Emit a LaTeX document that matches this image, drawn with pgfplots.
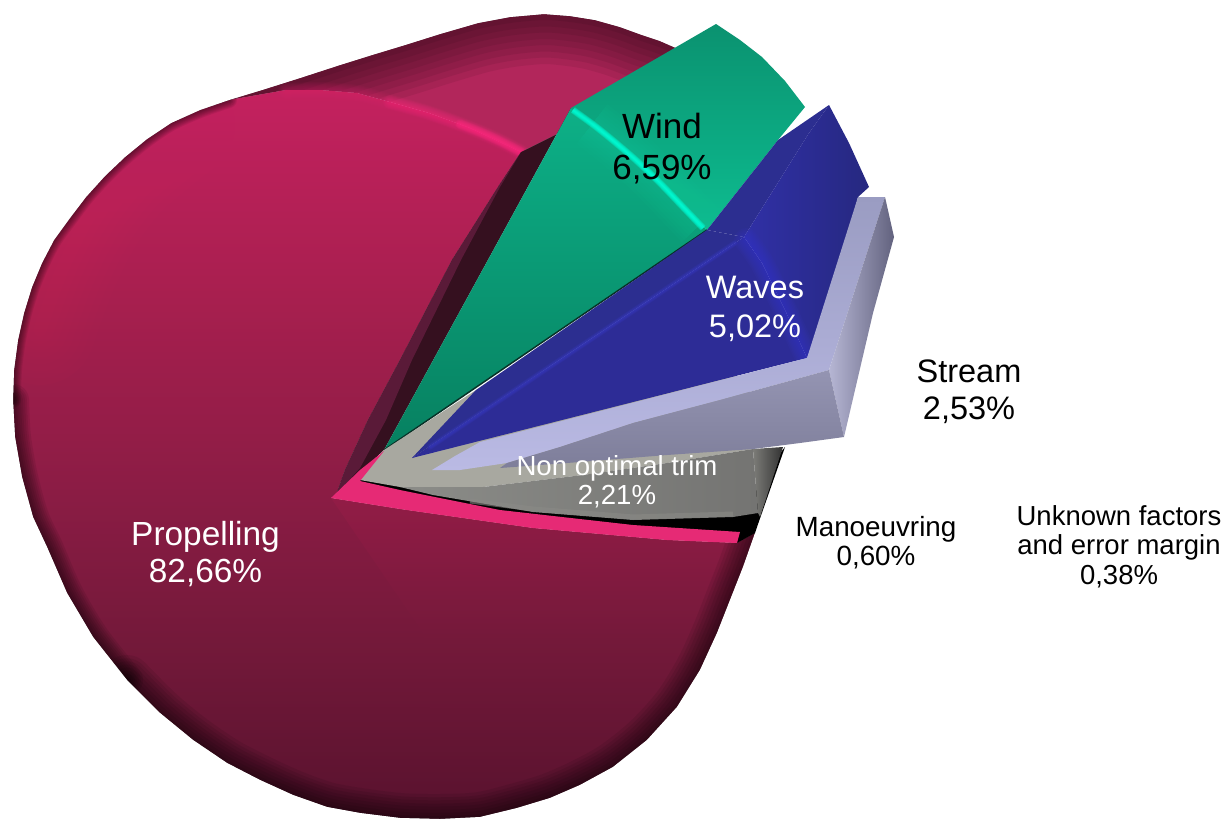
\documentclass[border=0pt]{standalone}
\usepackage{pgfplots}
\pgfplotsset{compat=1.18}
\usepackage{pgfplotstable}
\usepackage{fontspec}
\setmainfont{Liberation Sans}

% Outer edge of the large slice, in sections of growing edge shade
\pgfplotstableread{
x y
700 62
676 48
660 41
642 35
620 27
595 20
570 16
544 14
510 17
478 23
440 34
405 45
372 55
340 65
300 78
262 90
229 100
}\tTop
\pgfplotstableread{
x y
229 100
200 110
171 123
147 139
125 157
105 176
86 197
70 218
54 240
42 263
32 287
24 313
18 340
14 370
13 400
}\tEdgeA
\pgfplotstableread{
x y
13 400
15 437
22 477
33 517
47 547
67 593
93 637
127 680
}\tEdgeB
\pgfplotstableread{
x y
127 680
160 713
193 740
227 763
260 780
293 795
327 807
360 813
400 818
440 819
480 817
517 808
550 798
580 785
613 767
647 740
677 707
700 670
717 633
730 600
743 567
755 533
}\tEdgeC
% Rim of the large slice
\pgfplotstableread{
x y
229 100
262 90
300 78
340 65
372 55
405 45
440 34
478 23
510 17
544 14
570 16
595 20
620 27
642 35
660 41
676 48
580 125
561 132
521 152
470 128
429 113
390 102
357 93
320 90
286 90
}\tRim
% Face of the large slice
\pgfplotstableread{
x y
229 100
200 110
171 123
147 139
125 157
105 176
86 197
70 218
54 240
42 263
32 287
24 313
18 340
14 370
13 400
15 437
22 477
33 517
47 547
67 593
93 637
127 680
160 713
193 740
227 763
260 780
293 795
327 807
360 813
400 818
440 819
480 817
517 808
550 798
580 785
613 767
647 740
677 707
700 670
717 633
730 600
743 567
755 533
737 543
667 540
533 528
400 509
331 498
336 495
345 470
368 420
400 360
452 260
498 187
521 152
470 128
429 113
390 102
357 93
320 90
286 90
}\tFace
% Lighter lower-right part of the face
\pgfplotstableread{
x y
331 498
400 509
533 528
667 540
737 543
755 533
743 567
730 600
717 633
700 670
677 707
647 740
613 767
580 785
550 798
517 808
480 817
440 819
423 633
}\tFaceLow
\pgfplotstableread{
x y
286 91
320 90
357 93
390 102
429 113
470 128
500 141
521 152
}\tRimArc
\pgfplotstableread{
x y
390 102
429 113
470 128
500 141
521 152
}\tRimWarm
\pgfplotstableread{
x y
460 124
480 132
500 141
521 152
}\tRimHot
\pgfplotstableread{
x y
40 330
62 270
90 215
125 170
180 125
}\tSpot
% Cut walls between the large slice and Wind
\pgfplotstableread{
x y
521 152
561 132
571 108
384 450
338 493
336 495
345 470
368 420
400 360
452 260
498 187
}\tWallDark
\pgfplotstableread{
x y
521 152
500 187
461 260
412 360
386 420
360 468
336 495
345 470
368 420
400 360
452 260
498 187
}\tWallStrip
% Page with the outline cut out
\pgfplotstableread{
x y
1300 -50
1300 900
-50 900
-50 -50
1300 -50
676 48
660 41
642 35
620 27
595 20
570 16
544 14
510 17
478 23
440 34
405 45
372 55
340 65
300 78
262 90
229 100
200 110
171 123
147 139
125 157
105 176
86 197
70 218
54 240
42 263
32 287
24 313
18 340
14 370
13 400
15 437
22 477
33 517
47 547
67 593
93 637
127 680
160 713
193 740
227 763
260 780
293 795
327 807
360 813
400 818
440 819
480 817
517 808
550 798
580 785
613 767
647 740
677 707
700 670
717 633
730 600
743 567
755 533
676 48
1300 -50
}\tMask
% Wind
\pgfplotstableread{
x y
571 108
616 143
660 183
707 230
384 450
}\tWindFace
\pgfplotstableread{
x y
571 108
716 24
740 40
762 57
785 81
805 107
778 140
707 230
660 183
616 143
}\tWindRim
\pgfplotstableread{
x y
573 110
595 126
616 143
638 162
660 183
682 206
703 228
}\tWindArc
\pgfplotstableread{
x y
592 124
616 143
638 162
660 183
682 206
700 225
}\tWindGlow
\pgfplotstableread{
x y
384 450
707 230
}\tWindSeam
% Waves
\pgfplotstableread{
x y
412 458
476 390
707 230
744 237
}\tWavesWall
\pgfplotstableread{
x y
412 458
744 237
762 263
785 310
807 358
}\tWavesFace
\pgfplotstableread{
x y
707 230
778 140
829 105
809 133
744 237
}\tWavesRimL
\pgfplotstableread{
x y
744 237
809 133
829 105
849 143
869 187
858 197
836 280
807 358
785 310
762 263
}\tWavesRimR
\pgfplotstableread{
x y
430 447
669 287
735 243
}\tWavesRidge
\pgfplotstableread{
x y
746 240
762 263
785 310
806 356
}\tWavesArc
% Stream
\pgfplotstableread{
x y
432 470
455 456
480 442
807 358
858 197
885 197
829 370
720 400
633 423
560 447
507 463
460 470
}\tStreamTop
\pgfplotstableread{
x y
885 197
894 237
873 313
844 437
829 370
}\tStreamSide
\pgfplotstableread{
x y
829 370
844 437
800 443
753 449
667 455
567 463
500 468
507 463
560 447
633 423
720 400
}\tStreamLow
% Non optimal trim
\pgfplotstableread{
x y
360 480
384 450
476 390
700 330
785 440
753 449
667 463
583 475
483 487
400 487
}\tTrimTop
\pgfplotstableread{
x y
400 487
483 487
583 475
667 463
753 449
758 513
733 517
633 520
533 512
433 495
}\tTrimBody
\pgfplotstableread{
x y
753 449
783 447
760 517
758 513
}\tTrimSide
\pgfplotstableread{
x y
470 501
533 509
633 517
733 514
}\tTrimLip
% Manoeuvring
\pgfplotstableread{
x y
360 478
533 508
633 516
733 513
785 447
757 527
755 533
737 543
633 530
500 515
400 495
360 483
}\tManoeuvre
% Unknown factors and error margin
\pgfplotstableread{
x y
331 498
360 470
384 451
360 481
400 490
500 510
633 525
740 532
737 543
667 540
533 528
400 509
}\tUnknown

\definecolor{cRim}{HTML}{B2265B}
\definecolor{cPink}{HTML}{E62A75}
\definecolor{f0}{RGB}{88,18,46}
\definecolor{f1}{RGB}{116,25,58}
\definecolor{f2}{RGB}{138,28,68}
\definecolor{f3}{RGB}{168,31,79}
\definecolor{f4}{RGB}{196,33,95}
\definecolor{fl0}{RGB}{146,28,70}
\definecolor{cSpot}{RGB}{214,32,100}
\definecolor{cArc}{RGB}{225,40,115}
\definecolor{cHot}{RGB}{255,42,128}
\definecolor{cWallD}{RGB}{53,16,31}
\definecolor{cWallS}{RGB}{90,26,56}
\definecolor{g0}{RGB}{13,176,135}
\definecolor{g1}{RGB}{10,152,118}
\definecolor{g2}{RGB}{7,128,96}
\definecolor{g3}{RGB}{11,146,112}
\definecolor{g4}{RGB}{11,172,132}
\definecolor{g5}{RGB}{13,188,144}
\definecolor{g6}{RGB}{16,200,155}
\definecolor{g7}{RGB}{0,255,215}
\definecolor{gS}{RGB}{8,50,40}
\definecolor{t0}{RGB}{168,168,160}
\definecolor{t1}{RGB}{139,140,136}
\definecolor{t2}{RGB}{116,116,114}
\definecolor{t3}{RGB}{124,124,120}
\definecolor{t4}{RGB}{50,50,50}
\definecolor{t5}{RGB}{138,138,134}
\definecolor{b0}{RGB}{44,46,144}
\definecolor{b1}{RGB}{45,44,150}
\definecolor{b2}{RGB}{38,40,128}
\definecolor{b3}{RGB}{48,48,166}
\definecolor{b4}{RGB}{58,60,200}
\definecolor{b5}{RGB}{60,60,215}
\definecolor{s0}{RGB}{186,186,228}
\definecolor{s1}{RGB}{154,156,194}
\definecolor{s2}{RGB}{182,182,212}
\definecolor{s3}{RGB}{98,98,126}
\definecolor{s4}{RGB}{148,148,178}
\definecolor{s5}{RGB}{126,126,154}
% The lower shading reaches the face's own colours below y = 640
\pgfdeclareverticalshading{faceshade}{100bp}{
  color(0bp)=(f0); color(25bp)=(f0); color(37.3bp)=(f1); color(47bp)=(f2);
  color(61bp)=(f3); color(75bp)=(f4); color(100bp)=(f4)}
\pgfdeclareverticalshading{lowshade}{100bp}{
  color(0bp)=(f0); color(25bp)=(f0); color(52.9bp)=(f1); color(75bp)=(fl0);
  color(100bp)=(fl0)}

% Stacked strokes of falling width read as a soft band along a curve
\newcommand{\softband}[4]{%
  \pgfplotsinvokeforeach{1,0.87,0.75,0.62,0.5,0.37,0.25,0.12}{%
    \addplot[smooth, draw=#2, line width={##1*#3pt}, opacity=#4, line join=round, line cap=round] table {#1};
  }%
}
\newcommand{\softbandflat}[4]{%
  \pgfplotsinvokeforeach{1,0.87,0.75,0.62,0.5,0.37,0.25,0.12}{%
    \addplot[smooth, draw=#2, line width={##1*#3pt}, opacity=#4, line join=round, line cap=butt] table {#1};
  }%
}
\newcommand{\lab}[4]{\node[anchor=base, inner sep=0pt, text=#4, font=\fontsize{#3}{#3}\selectfont]
  at (axis cs:#1) {#2};}

\begin{document}
\begin{tikzpicture}
\begin{axis}[
  scale only axis, width=1228pt, height=819pt,
  xmin=0, xmax=1228, ymin=0, ymax=819, y dir=reverse,
  enlargelimits=false, hide axis]

% Large slice
\addplot[draw=none, fill=cRim] table {\tRim};
\softband{\tTop}{black}{100}{0.065}
\addplot[draw=none, shading=faceshade] table {\tFace};
\addplot[draw=none, shading=lowshade] table {\tFaceLow};
\softband{\tSpot}{cSpot}{110}{0.035}
\softband{\tRimArc}{cArc}{16}{0.05}
\softband{\tRimWarm}{cHot}{14}{0.07}
\softband{\tRimHot}{cHot}{10}{0.13}
\softband{\tEdgeA}{black}{16}{0.07}
\softband{\tEdgeB}{black}{32}{0.08}
\softband{\tEdgeC}{black}{50}{0.08}
\addplot[draw=none, fill=white, even odd rule] table {\tMask};

\addplot[draw=none, fill=cWallD] table {\tWallDark};
\addplot[draw=none, fill=cWallS] table {\tWallStrip};

% Wind
\addplot[draw=none, top color=g0, middle color=g1, bottom color=g2] table {\tWindFace};
\addplot[draw=none, shading angle=-45, top color=g3, middle color=g4, bottom color=g5] table {\tWindRim};
\softbandflat{\tWindGlow}{g6}{50}{0.06}
\softbandflat{\tWindArc}{g7}{7}{0.25}
\addplot[draw=gS, line width=1.5pt] table {\tWindSeam};

% Non optimal trim and Manoeuvring, under the slices above them
\addplot[draw=none, fill=black] table {\tManoeuvre};
\addplot[draw=none, fill=t0] table {\tTrimTop};
\addplot[draw=none, left color=t1, right color=t2] table {\tTrimBody};
\addplot[draw=t5, line width=5pt, opacity=0.6] table {\tTrimLip};
\addplot[draw=none, left color=t3, right color=t4] table {\tTrimSide};
\addplot[draw=none, fill=cPink] table {\tUnknown};

% Waves
\addplot[draw=none, fill=b0] table {\tWavesWall};
\addplot[draw=none, fill=b1] table {\tWavesFace};
\addplot[draw=none, fill=b0] table {\tWavesRimL};
\addplot[draw=none, left color=b3, right color=b2] table {\tWavesRimR};
\softband{\tWavesRidge}{b4}{6}{0.1}
\softband{\tWavesArc}{b5}{24}{0.07}

% Stream
\addplot[draw=none, shading angle=-30, top color=s1, bottom color=s0] table {\tStreamTop};
\addplot[draw=none, left color=s2, right color=s3] table {\tStreamSide};
\addplot[draw=none, top color=s4, bottom color=s5] table {\tStreamLow};

\lab{205.5,545}{Propelling}{33.4}{white}
\lab{205.5,582}{82,66\%}{33.4}{white}
\lab{662,138}{Wind}{35}{black}
\lab{662,179}{6,59\%}{35}{black}
\lab{755,298}{Waves}{32.5}{white}
\lab{755,337}{5,02\%}{32.5}{white}
\lab{969,382}{Stream}{32.5}{black}
\lab{969,419}{2,53\%}{32.5}{black}
\lab{617,475}{Non optimal trim}{27.6}{white}
\lab{617,504}{2,21\%}{27.6}{white}
\lab{876,536}{Manoeuvring}{27.8}{black}
\lab{876,565}{0,60\%}{27.8}{black}
\lab{1119,525}{Unknown factors}{27.5}{black}
\lab{1119,554}{and error margin}{27.5}{black}
\lab{1119,584}{0,38\%}{27.5}{black}
\end{axis}
\end{tikzpicture}
\end{document}
